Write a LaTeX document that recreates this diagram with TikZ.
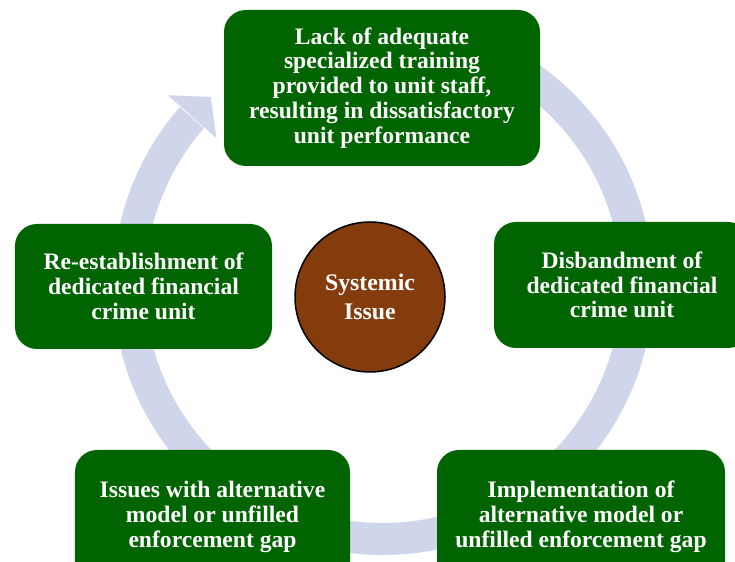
\documentclass[tikz,border=0pt]{standalone}
\usepackage{fontspec}
\setmainfont{Liberation Serif}
\usetikzlibrary{calc}
\definecolor{boxgreen}{RGB}{0,100,0}
\definecolor{ringblue}{RGB}{207,213,234}
\definecolor{corebrown}{RGB}{132,60,12}
\begin{document}
\begin{tikzpicture}[x=1bp,y=1bp,
  stagebox/.style={fill=boxgreen, rounded corners=22bp, text=white,
    font=\bfseries\fontsize{23.6bp}{24.8bp}\selectfont, align=center,
    inner sep=0pt, rectangle},
  corecircle/.style={circle, fill=corebrown, draw=black, line width=1.5bp,
    minimum size=150bp, inner sep=0pt, text=white, align=center,
    font=\bfseries\fontsize{23.8bp}{28.5bp}\selectfont},
  ring/.style={draw=ringblue, line width=32bp},
  ringhead/.style={fill=ringblue}
]
\useasboundingbox (0,0) rectangle (735,562);
\clip (0,0) rectangle (735,562);
\coordinate (c) at (383,277);
% circular arrow
\draw[ring] ($(c)+(95:254)$) arc[start angle=95, end angle=-221.2, radius=254];
\fill[ringhead] ($(c)+(138.6:222)$) -- ($(c)+(132.5:255)$) -- ($(c)+(138.6:287)$) -- cycle;
% stages
\node[stagebox, minimum width=316bp, minimum height=156bp] (top) at (382,474)
  {Lack of adequate\\specialized training\\provided to unit staff,\\resulting in dissatisfactory\\unit performance};
\node[stagebox, minimum width=256bp, minimum height=126bp] (right) at (622,277)
  {Disbandment of\\dedicated financial\\crime unit};
\node[stagebox, minimum width=288bp, minimum height=134bp] (botright) at (581,45)
  {Implementation of\\alternative model or\\unfilled enforcement gap};
\node[stagebox, minimum width=275bp, minimum height=134bp] (botleft) at (212.5,45)
  {Issues with alternative\\model or unfilled\\enforcement gap};
\node[stagebox, minimum width=257bp, minimum height=125bp] (left) at (143.5,275.5)
  {Re-establishment of\\dedicated financial\\crime unit};
\node[corecircle] (core) at (370,265) {Systemic\\Issue};
\end{tikzpicture}
\end{document}
